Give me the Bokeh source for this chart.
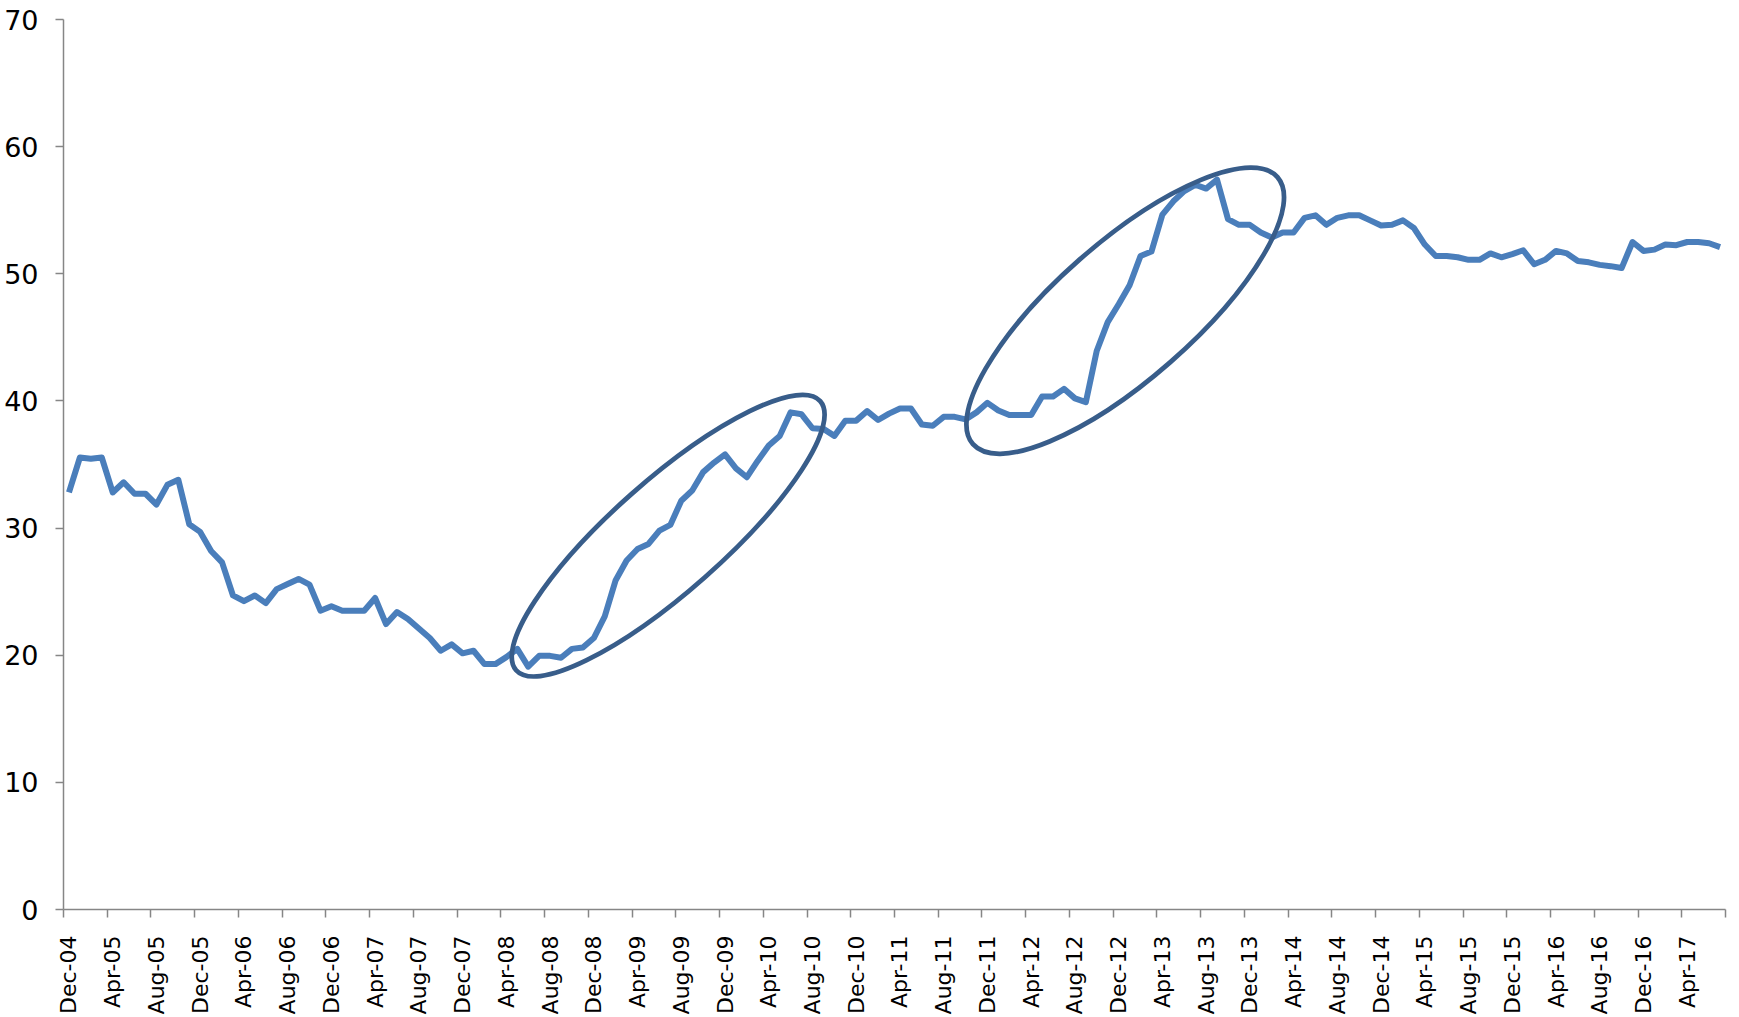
import math
from bokeh.plotting import figure
from bokeh.models import FixedTicker, Range1d
from bokeh.embed import file_html
from bokeh.resources import INLINE

# ---- data (monthly, Dec-04 .. Jul-17) ----
values = [
    32.8, 35.55, 35.45, 35.55, 32.8, 33.6, 32.7, 32.7, 31.85, 33.4, 33.8, 30.3,      # Dec-04..Nov-05
    29.7, 28.2, 27.3, 24.7, 24.25, 24.7, 24.1, 25.2, 25.6, 26.0, 25.55, 23.5,        # Dec-05..Nov-06
    23.85, 23.5, 23.5, 23.5, 24.5, 22.45, 23.4, 22.85, 22.1, 21.35, 20.35, 20.85,    # Dec-06..Nov-07
    20.15, 20.35, 19.3, 19.3, 19.85, 20.5, 19.1, 19.95, 19.95, 19.8, 20.5, 20.6,     # Dec-07..Nov-08
    21.35, 23.05, 25.9, 27.45, 28.35, 28.75, 29.8, 30.25, 32.15, 32.95, 34.4, 35.15, # Dec-08..Nov-09
    35.8, 34.7, 34.0, 35.3, 36.5, 37.25, 39.1, 38.95, 37.85, 37.8, 37.25, 38.45,     # Dec-09..Nov-10
    38.45, 39.2, 38.5, 39.0, 39.4, 39.4, 38.15, 38.05, 38.75, 38.75, 38.55, 39.1,    # Dec-10..Nov-11
    39.85, 39.25, 38.9, 38.9, 38.9, 40.35, 40.35, 40.95, 40.2, 39.9, 43.95, 46.2,    # Dec-11..Nov-12
    47.6, 49.1, 51.4, 51.75, 54.65, 55.7, 56.5, 57.0, 56.7, 57.4, 54.3, 53.85,       # Dec-12..Nov-13
    53.85, 53.25, 52.85, 53.25, 53.25, 54.4, 54.6, 53.85, 54.4, 54.6, 54.6, 54.2,    # Dec-13..Nov-14
    53.8, 53.85, 54.2, 53.6, 52.3, 51.4, 51.4, 51.3, 51.1, 51.1, 51.6, 51.3,         # Dec-14..Nov-15
    51.55, 51.85, 50.75, 51.1, 51.8, 51.6, 51.0, 50.9, 50.7, 50.6, 50.45, 52.5,      # Dec-15..Nov-16
    51.8, 51.9, 52.3, 52.25, 52.5, 52.5, 52.4, 52.1,                                 # Dec-16..Jul-17
]

tick_labels = [
    "Dec-04", "Apr-05", "Aug-05", "Dec-05", "Apr-06", "Aug-06", "Dec-06", "Apr-07",
    "Aug-07", "Dec-07", "Apr-08", "Aug-08", "Dec-08", "Apr-09", "Aug-09", "Dec-09",
    "Apr-10", "Aug-10", "Dec-10", "Apr-11", "Aug-11", "Dec-11", "Apr-12", "Aug-12",
    "Dec-12", "Apr-13", "Aug-13", "Dec-13", "Apr-14", "Aug-14", "Dec-14", "Apr-15",
    "Aug-15", "Dec-15", "Apr-16", "Aug-16", "Dec-16", "Apr-17",
]
label_step = 4          # one label every 4 months
y_ticks = [0, 10, 20, 30, 40, 50, 60, 70]

# highlight ellipses: centre in data (month index, value)
ell_month = [54.8, 96.6]
ell_value = [29.4, 47.1]

# ---- styling ----
LINE_COLOR = "#4a7ebb"
ELL_COLOR = "#385d8a"
AXIS_COLOR = "#868686"
ell_w = [406, 405]            # screen px, major axis
ell_h = [111, 137]            # screen px, minor axis
ell_angle = [math.radians(41.5), math.radians(41.25)]

n = len(values)
x = list(range(n))

p = figure(width=1739, height=1017, output_backend="svg", toolbar_location=None,
           title=None,
           x_range=Range1d(-0.5, n - 0.5), y_range=Range1d(0, 70),
           min_border_left=63, min_border_right=14, min_border_top=19,
           min_border_bottom=108)
p.outline_line_color = None
p.xgrid.visible = False
p.ygrid.visible = False
p.background_fill_color = "white"
p.border_fill_color = "white"

p.line(x, values, line_color=LINE_COLOR, line_width=6, line_join="round")

p.ellipse(x=ell_month, y=ell_value, width=ell_w, height=ell_h, angle=ell_angle,
          width_units="screen", height_units="screen",
          fill_color=None, line_color=ELL_COLOR, line_width=4.75)

# y axis
ya = p.yaxis[0]
ya.ticker = FixedTicker(ticks=y_ticks)
ya.axis_line_color = AXIS_COLOR
ya.axis_line_width = 1.5
ya.major_tick_line_color = AXIS_COLOR
ya.major_tick_line_width = 1.5
ya.major_tick_out = 8
ya.major_tick_in = 0
ya.minor_tick_line_color = None
ya.major_label_text_font = "DejaVu Sans"
ya.major_label_text_font_size = "27px"
ya.major_label_text_color = "#000000"
ya.major_label_standoff = 17

# x axis: labels at month centres, tick marks at group boundaries
label_pos = [i * label_step for i in range(len(tick_labels))]
bounds = [i * label_step - 0.5 for i in range(n // label_step + 1)]
xa = p.xaxis[0]
xa.ticker = FixedTicker(ticks=label_pos, minor_ticks=bounds)
xa.major_label_overrides = {pos: lab for pos, lab in zip(label_pos, tick_labels)}
xa.axis_line_color = AXIS_COLOR
xa.axis_line_width = 1.5
xa.major_tick_line_color = None
xa.major_tick_out = 0
xa.major_tick_in = 0
xa.minor_tick_line_color = AXIS_COLOR
xa.minor_tick_line_width = 1.5
xa.minor_tick_out = 8
xa.minor_tick_in = 0
xa.major_label_orientation = math.pi / 2
xa.major_label_text_font = "DejaVu Sans"
xa.major_label_text_font_size = "22px"
xa.major_label_text_color = "#000000"
xa.major_label_standoff = 18

open("out.html", "w").write(file_html(p, INLINE))
